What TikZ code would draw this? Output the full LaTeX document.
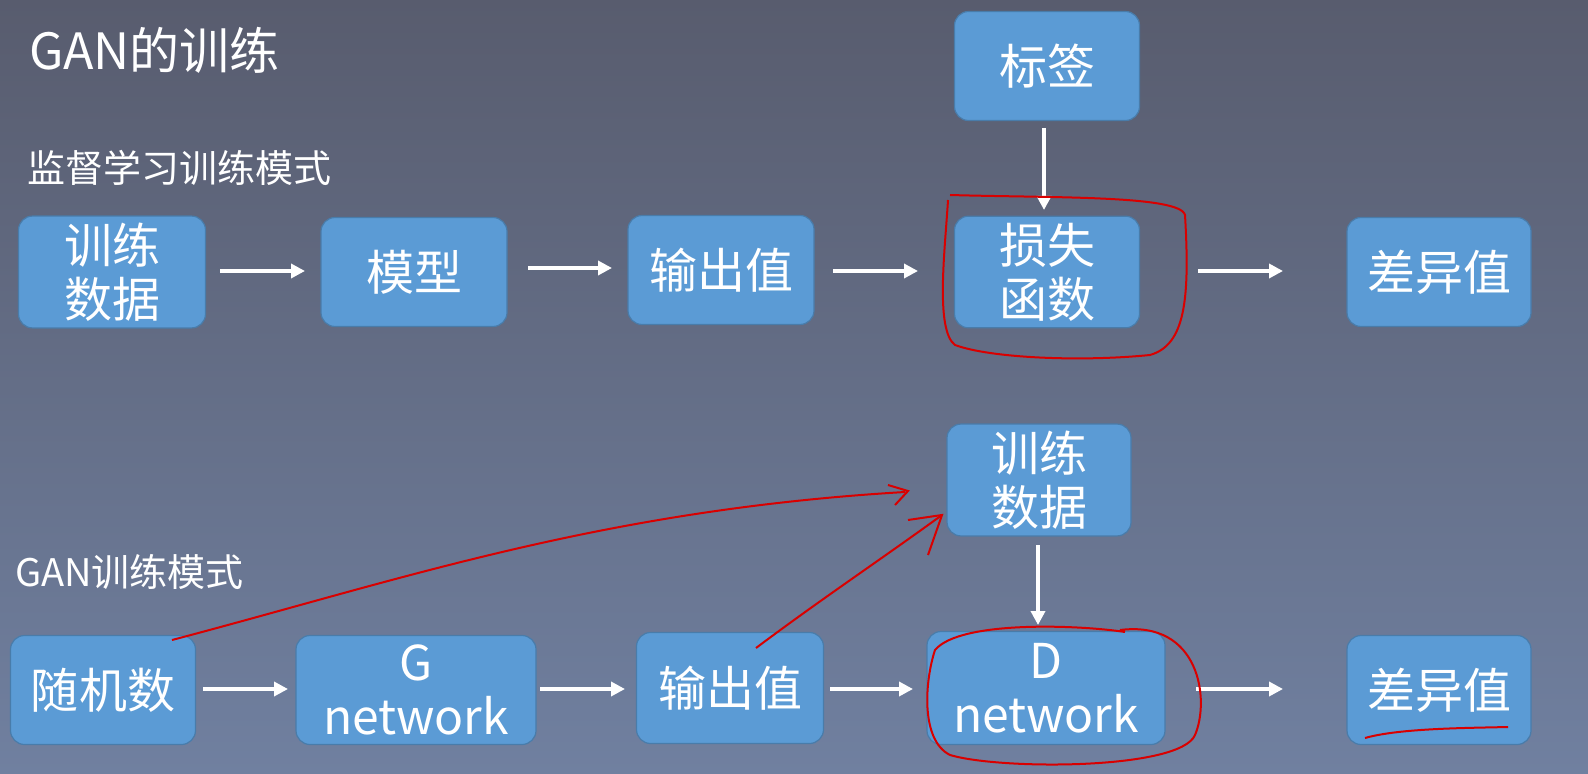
\documentclass[tikz,border=0pt]{standalone}
\usepackage{fontspec}
\setmainfont{Noto Sans CJK SC}
\usetikzlibrary{arrows.meta}
\definecolor{bx}{HTML}{5B9BD5}
\begin{document}
\begin{tikzpicture}[x=0.5pt,y=-0.5pt,
  box/.style={draw=bx!80!black,line width=0.6pt,fill=bx,rounded corners=7pt,text=white,align=center,font=\fontsize{24}{27}\selectfont},
  arr/.style={draw=white,line width=2pt,-{Triangle[length=7pt,width=7pt]}},
  red/.style={draw=red!85!black,line width=1pt}]
\shade[top color={rgb,255:red,88;green,92;blue,110},bottom color={rgb,255:red,112;green,128;blue,160}] (0,0) rectangle (1588,774);
\useasboundingbox (0,0) rectangle (1588,774);
\node[anchor=west,text=white,font=\fontsize{25}{28}\selectfont] (t) at (22,50) {GAN的训练};
\node[anchor=west,text=white,font=\fontsize{19}{22}\selectfont] (s1) at (20,168) {监督学习训练模式};
\node[anchor=west,text=white,font=\fontsize{19}{22}\selectfont] (s2) at (8,572) {GAN训练模式};
\newcommand{\bx}[6]{\node[box,minimum width=#4*0.5pt-1pt,minimum height=#5*0.5pt-1pt] (#1) at (#2,#3) {#6};}
\bx{a1}{112}{272}{189}{111}{训练\\数据}
\bx{a2}{414}{272}{188}{111}{模型}
\bx{a3}{721}{270}{188}{111}{输出值}
\bx{a4}{1047}{272}{187}{111}{损失\\函数}
\bx{a5}{1439}{272}{186}{111}{差异值}
\bx{lb}{1047}{66}{187}{111}{标签}
\bx{b1}{103}{690}{187}{111}{随机数}
\bx{b2}{416}{690}{242}{111}{G\\network}
\bx{b3}{730}{688}{189}{113}{输出值}
\bx{b4}{1046}{688}{240}{115}{D\\network}
\bx{b5}{1439}{690}{186}{111}{差异值}
\bx{td}{1039}{480}{186}{110}{训练\\数据}
\draw[arr] (220,271) -- (305,271);
\draw[arr] (528,268) -- (612,268);
\draw[arr] (833,271) -- (918,271);
\draw[arr] (1198,271) -- (1283,271);
\draw[arr] (1044,128) -- (1044,210);
\draw[arr] (203,689) -- (288,689);
\draw[arr] (540,689) -- (625,689);
\draw[arr] (830,689) -- (913,689);
\draw[arr] (1196,689) -- (1283,689);
\draw[arr] (1038,545) -- (1038,625);
% red annotations
\draw[red] (950,195) .. controls (1050,198) and (1180,195) .. (1185,215) .. controls (1190,300) and (1185,345) .. (1150,355) .. controls (1080,362) and (990,358) .. (955,345) .. controls (935,330) and (945,250) .. (948,200);
\draw[red] (1120,630) .. controls (1200,620) and (1210,700) .. (1195,735) .. controls (1180,770) and (1000,770) .. (950,755) .. controls (920,740) and (925,680) .. (935,650) .. controls (960,620) and (1080,625) .. (1125,632);
\draw[red] (1365,738) .. controls (1400,728) and (1470,728) .. (1508,727);
\draw[red] (172,640) .. controls (400,580) and (600,510) .. (905,492);
\draw[red] (888,485) -- (908,491) -- (895,505);
\draw[red] (756,648) .. controls (820,600) and (880,560) .. (942,515);
\draw[red] (908,520) -- (942,515) -- (928,555);
\end{tikzpicture}
\end{document}
